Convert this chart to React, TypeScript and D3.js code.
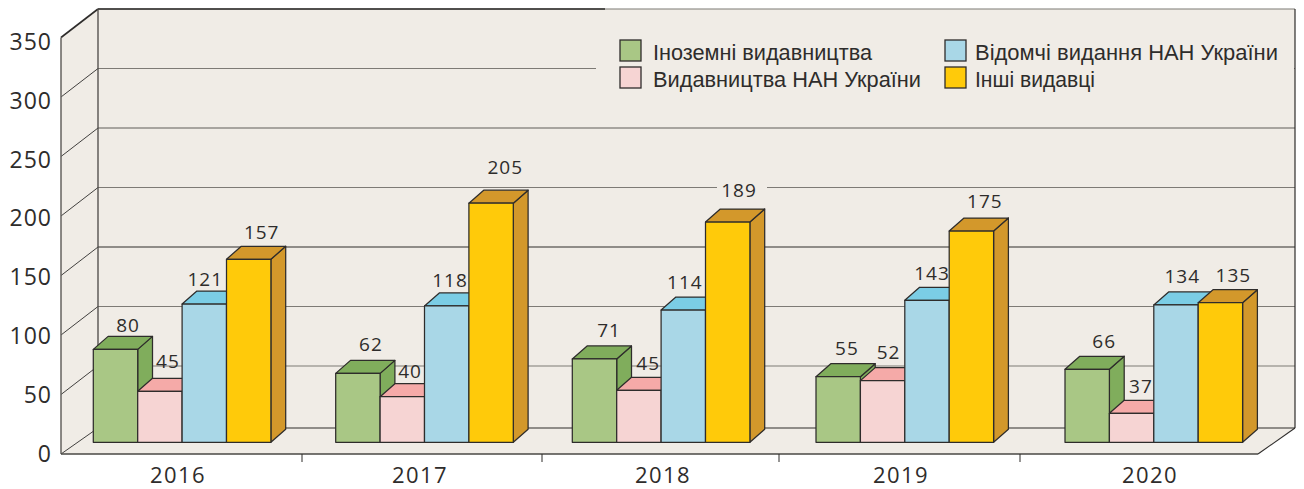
import React from "react";
import * as d3 from "d3";

const years = ["2016", "2017", "2018", "2019", "2020"];
const seriesNames = ["Іноземні видавництва", "Видавництва НАН України", "Відомчі видання НАН України", "Інші видавці"];
const foreign = [80, 62, 71, 55, 66];
const nasPublishers = [45, 40, 45, 52, 37];
const nasDepartmental = [121, 118, 114, 143, 134];
const others = [157, 205, 189, 175, 135];
// Heights of the bars as actually drawn in the picture, in axis units (they differ from their printed labels)
const foreignDrawn = [77.6, 57.6, 69.6, 54.8, 61];
const nasPublishersDrawn = [42.6, 38.1, 43.4, 51.5, 24.2];
const nasDepartmentalDrawn = [115.5, 113.9, 110.5, 118.6, 114.7];
const othersDrawn = [152.9, 199.7, 184, 176.5, 116.6];
const yTicks = [0, 50, 100, 150, 200, 250, 300, 350];

const labels = [foreign, nasPublishers, nasDepartmental, others];
const drawn = [foreignDrawn, nasPublishersDrawn, nasDepartmentalDrawn, othersDrawn];

// Styling & layout
const frontFill = ["#a9c785", "#f6d4d3", "#a9d7e7", "#ffca0a"];
const sideFill = ["#80ad5c", "#f5aaa8", "#7bcde5", "#d3982b"];
const BG = "#f0ece6";
const INK = "#2e2c2b";
const GREY = "#7d7a75";
const FONT = "'Open Sans', sans-serif";
const LEGEND_FONT = "'Liberation Sans', sans-serif";
const groupLefts = [93.3, 335.7, 572.3, 816, 1065];
const yearCentres = [177, 419, 662, 900, 1149];
const separators = [302, 542, 779, 1020];
const labelDx = [[12.5, 8, 1, 13], [13, 7.7, 3.3, 14.2], [14.5, 9.3, 1.6, 11.3], [8.7, 5.9, 5, 13.5], [17, 9.3, 6.3, 13]];
const labelDy = [[-17.6, -23.6, -18.3, -20], [-22.3, -18.7, -18.7, -29.3], [-22.3, -20.3, -21, -25.3], [-21.4, -21.4, -20.3, -23], [-21, -20.6, -21.7, -20.4]];
const gridInk = [INK, GREY, GREY, INK, GREY, "#5f5c58", GREY, GREY];
const legendX = [620, 620, 945, 945];
const legendY = [40, 67, 40, 67];
const legendW = [219, 268, 303, 120];

const BAR_W = 44.4;
const DX = 14.8;
const DY = 13;
const BAR_BASE = 442.3;
const LEFT = 61, BACK = 98, RIGHT = 1295, FRONT_R = 1258;

const yBack = d3.scaleLinear().domain([0, 50, 350]).range([428, 366, 9]);
const yFront = d3.scaleLinear().domain([0, 350]).range([454, 37.5]);
const yTickText = d3.scaleLinear().domain([0, 350]).range([461.5, 50]);
const barH = d3.scaleLinear().domain([0, 350]).range([0, 419]);
const groupX = d3.scaleOrdinal<string, number>().domain(years).range(groupLefts);
const seriesX = d3.scaleLinear().domain([0, 1]).range([0, BAR_W]);
const poly = d3.line<[number, number]>();

function Bar({ x, top, si }: { x: number; top: number; si: number }) {
  const x1 = x + BAR_W;
  const common = { stroke: INK, strokeWidth: 1.25, strokeLinejoin: "round" as const };
  return (
    <g>
      <path {...common} fill={sideFill[si]} d={poly([[x1, top], [x1 + DX, top - DY], [x1 + DX, BAR_BASE - DY], [x1, BAR_BASE]]) + "Z"} />
      <path {...common} fill={sideFill[si]} d={poly([[x, top], [x + DX, top - DY], [x1 + DX, top - DY], [x1, top]]) + "Z"} />
      <rect {...common} fill={frontFill[si]} x={x} y={top} width={BAR_W} height={BAR_BASE - top} />
    </g>
  );
}

export default function App() {
  return (
    <svg width={1304} height={489} style={{ position: "absolute", left: 0, top: 0, display: "block", background: "#fff" }} fontFamily={FONT}>
      {/* walls and floor */}
      <path fill={BG} d={poly([[LEFT, yFront(350)], [BACK, yBack(350)], [RIGHT, yBack(350)], [RIGHT, yBack(0)], [FRONT_R, yFront(0)], [LEFT, yFront(0)]]) + "Z"} />

      {/* gridlines on back wall and left wall */}
      {yTicks.map((t, i) => (
        <g key={t}>
          <line x1={BACK} x2={RIGHT} y1={yBack(t)} y2={yBack(t)} stroke={gridInk[i]} strokeWidth={1.2} />
          <line x1={LEFT} x2={BACK} y1={yFront(t)} y2={yBack(t)} stroke={INK} strokeWidth={i === 7 ? 1.6 : 0.9} />
        </g>
      ))}
      <line x1={BACK} x2={605} y1={yBack(350)} y2={yBack(350)} stroke={INK} strokeWidth={1.3} />

      {/* legend panel hides gridline */}
      <rect x={596} y={yBack(350) + 1} width={RIGHT - 597} height={yBack(250) - yBack(350) - 2} fill={BG} />
      {/* gap in the gridline behind the 189 label */}
      <rect x={717} y={yBack(200) - 2} width={50} height={4} fill={BG} />

      <line x1={BACK} x2={BACK} y1={yBack(350)} y2={yBack(0)} stroke="#4a4845" strokeWidth={1.3} />
      <line x1={LEFT} x2={LEFT} y1={yFront(350)} y2={yFront(0)} stroke="#65625e" strokeWidth={1.5} />
      <line x1={RIGHT} x2={RIGHT} y1={yBack(350)} y2={yBack(0)} stroke={INK} strokeWidth={1.2} />
      <line x1={RIGHT} x2={FRONT_R} y1={yBack(0)} y2={yFront(0)} stroke={INK} strokeWidth={1.1} />
      <line x1={LEFT} x2={FRONT_R} y1={yFront(0)} y2={yFront(0)} stroke="#4a4845" strokeWidth={1.4} />

      {/* y axis labels */}
      {yTicks.map((t) => (
        <text key={t} x={52} y={yTickText(t)} textAnchor="end" fontSize={23} letterSpacing={1} fill={INK}>{t}</text>
      ))}

      {/* x axis */}
      {separators.map((x) => (
        <line key={x} x1={x} x2={x} y1={yFront(0)} y2={yFront(0) + 8} stroke={INK} strokeWidth={1} />
      ))}
      {years.map((y, i) => (
        <text key={y} x={yearCentres[i] + 1} y={483} textAnchor="middle" fontSize={22} letterSpacing={1.4} fill={INK}>{y}</text>
      ))}

      {/* bars */}
      {years.map((y, yi) => (
        <g key={y}>
          {drawn.map((vals, si) => (
            <Bar key={si} si={si} x={groupX(y) + seriesX(si)} top={BAR_BASE - barH(vals[yi])} />
          ))}
        </g>
      ))}

      {/* value labels */}
      {years.map((y, yi) => labels.map((vals, si) => (
        <text key={y + si} textAnchor="middle" fontSize={19} letterSpacing={1} fill={INK}
          x={groupX(y) + seriesX(si) + BAR_W / 2 + labelDx[yi][si]}
          y={BAR_BASE - barH(drawn[si][yi]) + labelDy[yi][si]}>{vals[yi]}</text>
      )))}

      {/* legend */}
      {seriesNames.map((name, i) => (
        <g key={name}>
          <rect x={legendX[i]} y={legendY[i]} width={21} height={21} fill={frontFill[i]} stroke={INK} strokeWidth={1.3} />
          <text x={legendX[i] + (i < 2 ? 33 : 30)} y={legendY[i] + 20} fontSize={22} fontFamily={LEGEND_FONT} fill={INK}
            textLength={legendW[i]} lengthAdjust="spacingAndGlyphs">{name}</text>
        </g>
      ))}
    </svg>
  );
}
